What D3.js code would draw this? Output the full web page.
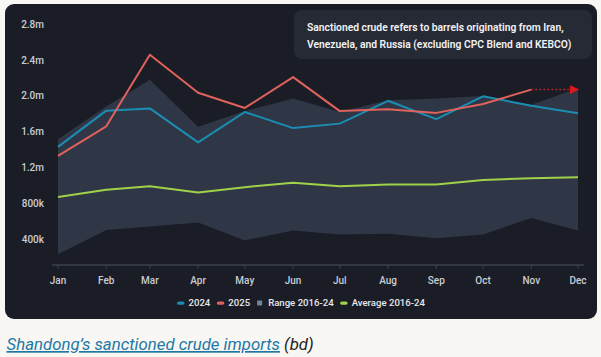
<!DOCTYPE html>
<html>
<head>
<meta charset="utf-8">
<script src="https://cdn.jsdelivr.net/npm/d3@7"></script>
<style>
  html, body { margin: 0; padding: 0; background: #f8f7f3; }
  svg { display: block; }
</style>
</head>
<body>
<svg id="chart" width="601" height="357"></svg>
<script>
// ---- data (barrels per day) ----
const months = ["Jan","Feb","Mar","Apr","May","Jun","Jul","Aug","Sep","Oct","Nov","Dec"];
const series2024 = [1430000,1835000,1860000,1480000,1820000,1640000,1690000,1945000,1740000,1995000,1890000,1805000];
const series2025 = [1330000,1660000,2460000,2035000,1865000,2210000,1830000,1850000,1810000,1910000,2070000];
const rangeHigh = [1515000,1880000,2180000,1655000,1830000,1970000,1820000,1950000,1970000,2000000,1900000,2085000];
const rangeLow  = [230000,500000,540000,585000,385000,495000,450000,460000,410000,450000,635000,495000];
const average   = [870000,950000,990000,920000,980000,1030000,990000,1010000,1010000,1060000,1080000,1090000];
const projectionMonths = ["Nov","Dec"];
const projection2025 = [2070000,2070000];
const yTicks = [400000,800000,1200000,1600000,2000000,2400000,2800000];
const legendItems = [
  {label:"2024", kind:"line", color:"#1b8db3"},
  {label:"2025", kind:"line", color:"#e0625c"},
  {label:"Range 2016-24", kind:"square", color:"#75839a"},
  {label:"Average 2016-24", kind:"line", color:"#9fd24a"}
];
const noteLines = ["Sanctioned crude refers to barrels originating from Iran,",
                   "Venezuela, and Russia (excluding CPC Blend and KEBCO)"];
const captionLink = "Shandong\u2019s sanctioned crude imports";
const captionRest = " (bd)";

// ---- setup ----
const svg = d3.select("#chart");
const dateOf = m => new Date(2025, months.indexOf(m), 1);
const x = d3.scaleTime().domain([dateOf("Jan"), dateOf("Dec")]).range([58, 578]);
const y = d3.scaleLinear().domain([110000, 2800000]).range([265, 24.3]);

// card
svg.append("rect").attr("x",5).attr("y",4).attr("width",592).attr("height",315)
  .attr("rx",9).attr("fill","#1b1d26");

// range area
const rangeData = months.map((m,i)=>({d:dateOf(m), lo:rangeLow[i], hi:rangeHigh[i]}));
svg.append("path").datum(rangeData)
  .attr("d", d3.area().x(d=>x(d.d)).y0(d=>y(d.lo)).y1(d=>y(d.hi)))
  .attr("fill","#2f3646");

// lines
const line = d3.line().x(d=>x(d.d)).y(d=>y(d.v));
function drawLine(vals, color, w){
  const data = vals.map((v,i)=>({d:dateOf(months[i]), v}));
  svg.append("path").datum(data).attr("d", line).attr("fill","none")
    .attr("stroke", color).attr("stroke-width", w).attr("stroke-linejoin","round");
}
drawLine(average, "#9fd24a", 2);
drawLine(series2024, "#1b8db3", 2);
drawLine(series2025, "#e0625c", 2);

// projection arrow
const proj = projectionMonths.map((m,i)=>({d:dateOf(m), v:projection2025[i]}));
svg.append("defs").append("marker").attr("id","arrow")
  .attr("viewBox","0 0 10 10").attr("refX",9).attr("refY",5)
  .attr("markerWidth",9).attr("markerHeight",9).attr("markerUnits","userSpaceOnUse")
  .attr("orient","auto")
  .append("path").attr("d","M0,0L10,5L0,10Z").attr("fill","#e3161b");
svg.append("path").datum(proj).attr("d", line).attr("fill","none")
  .attr("stroke","#b3242a").attr("stroke-width",1.5).attr("stroke-dasharray","2,2")
  .attr("marker-end","url(#arrow)");

// x axis
const xAxis = svg.append("g").attr("transform","translate(0,265)");
xAxis.append("line").attr("x1",52).attr("x2",584).attr("stroke","#3b404c").attr("stroke-width",1.5);
xAxis.selectAll("line.tick").data(months).join("line").attr("class","tick")
  .attr("x1",m=>x(dateOf(m))).attr("x2",m=>x(dateOf(m))).attr("y1",0).attr("y2",4)
  .attr("stroke","#3b404c").attr("stroke-width",1);
xAxis.selectAll("text").data(months).join("text")
  .attr("x",m=>x(dateOf(m))).attr("y",19).attr("text-anchor","middle")
  .attr("font-family","Roboto").attr("font-size",10).attr("font-weight",500)
  .attr("fill","#c9ccd3").text(m=>m);

// y axis labels
const fmt = v => v < 1e6 ? (v/1000)+"k" : (v/1e6).toFixed(1)+"m";
svg.append("g").selectAll("text").data(yTicks).join("text")
  .attr("x",44).attr("y",v=>y(v)).attr("dy","0.35em").attr("text-anchor","end")
  .attr("font-family","Roboto").attr("font-size",10).attr("font-weight",500)
  .attr("fill","#c9ccd3").text(fmt);

// annotation box
svg.append("rect").attr("x",294).attr("y",10).attr("width",298).attr("height",49)
  .attr("rx",8).attr("fill","#262a35");
svg.append("g").selectAll("text").data(noteLines).join("text")
  .attr("x",307).attr("y",(d,i)=>27.3+i*16.7).attr("dy","0.35em")
  .attr("font-family","Roboto").attr("font-size",10.3).attr("font-weight",600)
  .attr("fill","#f2f3f5").text(d=>d);

// legend
const lg = svg.append("g").attr("transform","translate(177,303)");
let lx = 0;
legendItems.forEach(it=>{
  if(it.kind==="line"){
    lg.append("rect").attr("x",lx).attr("y",-1.5).attr("width",7.5).attr("height",3.2)
      .attr("rx",1.6).attr("fill",it.color);
  } else {
    lg.append("rect").attr("x",lx+0.5).attr("y",-2.5).attr("width",5).attr("height",5)
      .attr("rx",0.8).attr("fill",it.color);
  }
  const t = lg.append("text").attr("x",lx+11.5).attr("y",0).attr("dy","0.35em")
    .attr("font-family","Roboto").attr("font-size",9.6).attr("font-weight",500)
    .attr("fill","#e6e8ec").text(it.label);
  lx += 11.5 + t.node().getComputedTextLength() + 6.5;
});

// caption
const cap = svg.append("text").attr("x",6.5).attr("y",350)
  .attr("font-family","Roboto").attr("font-size",16.8).attr("font-style","italic")
  .attr("font-weight",400);
cap.append("tspan").attr("fill","#1f77a6").attr("text-decoration","underline").text(captionLink);
cap.append("tspan").attr("fill","#222").text(captionRest);
</script>
</body>
</html>
